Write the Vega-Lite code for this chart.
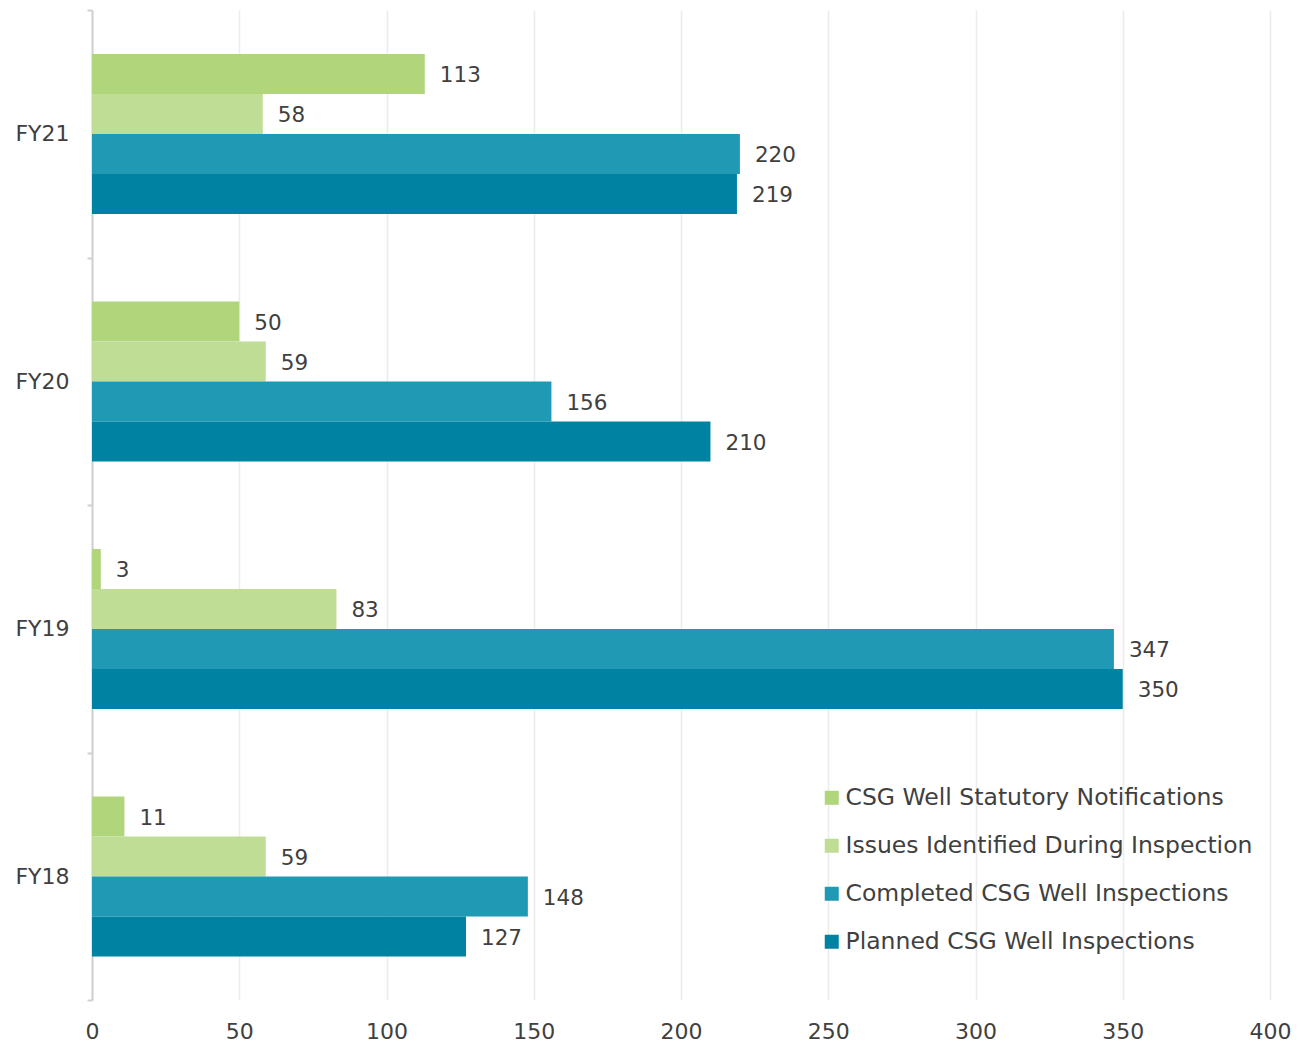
{
  "$schema": "https://vega.github.io/schema/vega-lite/v6.json",
  "width": 1178,
  "height": 990,
  "autosize": {"type": "none"},
  "padding": {"left": 92, "top": 10, "right": 34, "bottom": 46},
  "background": "white",
  "config": {
    "font": "DejaVu Sans",
    "view": {"stroke": null},
    "axis": {"labelFont": "DejaVu Sans", "labelColor": "#404040"}
  },
  "data": {
    "values": [
      {"year": "FY21", "series": "CSG Well Statutory Notifications", "value": 113},
      {"year": "FY21", "series": "Issues Identified During Inspection", "value": 58},
      {"year": "FY21", "series": "Completed CSG Well Inspections", "value": 220},
      {"year": "FY21", "series": "Planned CSG Well Inspections", "value": 219},
      {"year": "FY20", "series": "CSG Well Statutory Notifications", "value": 50},
      {"year": "FY20", "series": "Issues Identified During Inspection", "value": 59},
      {"year": "FY20", "series": "Completed CSG Well Inspections", "value": 156},
      {"year": "FY20", "series": "Planned CSG Well Inspections", "value": 210},
      {"year": "FY19", "series": "CSG Well Statutory Notifications", "value": 3},
      {"year": "FY19", "series": "Issues Identified During Inspection", "value": 83},
      {"year": "FY19", "series": "Completed CSG Well Inspections", "value": 347},
      {"year": "FY19", "series": "Planned CSG Well Inspections", "value": 350},
      {"year": "FY18", "series": "CSG Well Statutory Notifications", "value": 11},
      {"year": "FY18", "series": "Issues Identified During Inspection", "value": 59},
      {"year": "FY18", "series": "Completed CSG Well Inspections", "value": 148},
      {"year": "FY18", "series": "Planned CSG Well Inspections", "value": 127}
    ]
  },
  "encoding": {
    "y": {
      "field": "year",
      "type": "nominal",
      "sort": ["FY21", "FY20", "FY19", "FY18"],
      "scale": {"paddingInner": 0, "paddingOuter": 0},
      "axis": {
        "title": null,
        "domainColor": "#d0d0d0",
        "domainWidth": 2,
        "tickColor": "#d0d0d0",
        "tickWidth": 2,
        "tickSize": 5,
        "tickBand": "extent",
        "labelFontSize": 22,
        "labelPadding": 18,
        "grid": false
      }
    },
    "yOffset": {
      "field": "series",
      "type": "nominal",
      "sort": [
        "CSG Well Statutory Notifications",
        "Issues Identified During Inspection",
        "Completed CSG Well Inspections",
        "Planned CSG Well Inspections"
      ],
      "scale": {"range": [44, 204], "paddingInner": 0, "paddingOuter": 0}
    },
    "x": {
      "field": "value",
      "type": "quantitative",
      "scale": {"domain": [0, 400], "nice": false},
      "axis": {
        "title": null,
        "values": [0, 50, 100, 150, 200, 250, 300, 350, 400],
        "domain": false,
        "ticks": false,
        "labelFlush": false,
        "labelFontSize": 22,
        "labelPadding": 21,
        "gridColor": "#ececec",
        "gridWidth": 1.5
      }
    }
  },
  "layer": [
    {
      "mark": {"type": "bar"},
      "encoding": {
        "color": {
          "field": "series",
          "type": "nominal",
          "sort": [
            "CSG Well Statutory Notifications",
            "Issues Identified During Inspection",
            "Completed CSG Well Inspections",
            "Planned CSG Well Inspections"
          ],
          "scale": {
            "domain": [
              "CSG Well Statutory Notifications",
              "Issues Identified During Inspection",
              "Completed CSG Well Inspections",
              "Planned CSG Well Inspections"
            ],
            "range": ["#b0d57b", "#c0dd95", "#2099b5", "#0082a2"]
          },
          "legend": {
            "title": null,
            "orient": "none",
            "legendX": 728,
            "legendY": 776,
            "symbolType": "square",
            "symbolSize": 196,
            "symbolStrokeWidth": 0,
            "labelFontSize": 23.5,
            "labelColor": "#404040",
            "labelFont": "DejaVu Sans",
            "labelOffset": 2,
            "rowPadding": 23,
            "labelLimit": 600
          }
        }
      }
    },
    {
      "mark": {"type": "text", "align": "left", "baseline": "middle", "dx": 15, "dy": 2, "fontSize": 21.5, "color": "#404040"},
      "encoding": {"text": {"field": "value", "type": "quantitative"}}
    }
  ]
}
